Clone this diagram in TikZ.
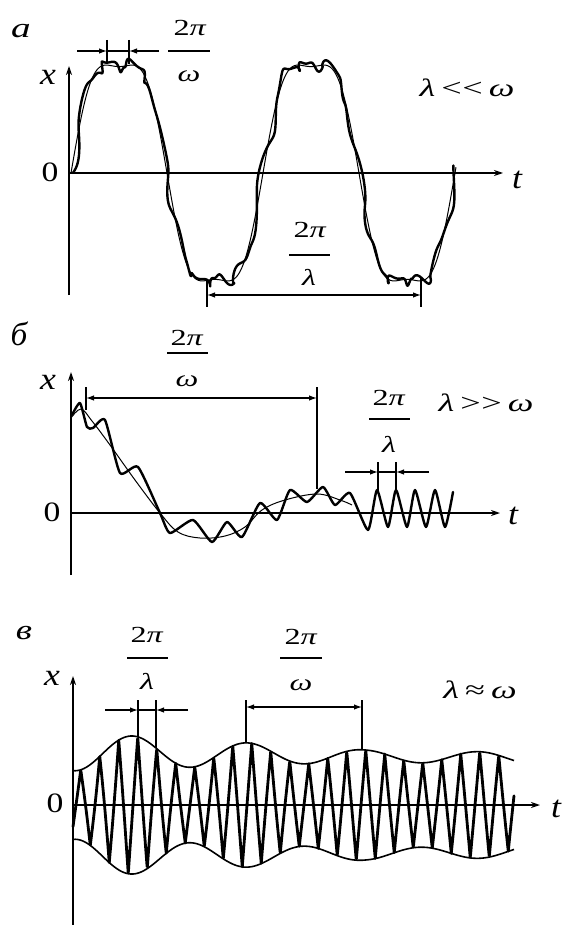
\documentclass[tikz,border=0pt]{standalone}
\usepackage{fontspec}
\setmainfont{Liberation Serif}
\usetikzlibrary{arrows.meta}
\begin{document}
\begin{tikzpicture}[x=1pt,y=-1pt,
  declare function={
    sa(\t)=(sin((\t-71)*1.875)+sin((\t-71)*5.625)/7)/0.87;
    ev(\t)=52.5-0.015*(\t-133)+max(6,16.5-0.045*(\t-133))*cos((\t-133)*3.1304);
    tri(\t)=asin(sin((\t-133)*18.947))/90;
  },
  axisline/.style={line width=1.2pt,-{Stealth[open,length=9pt,width=6pt]}},
  tickline/.style={line width=1.1pt},
  dimline/.style={line width=1.2pt},
  tipend/.style={-{Latex[length=8pt,width=5.5pt]}},
  bothtips/.style={{Latex[length=8pt,width=5.5pt]}-{Latex[length=8pt,width=5.5pt]}},
  slowline/.style={line width=1pt,line join=round},
  fastline/.style={line width=2.4pt,line join=round,line cap=round},
  paneltext/.style={inner sep=0pt,font=\fontsize{28}{30}\selectfont\itshape,xscale=1.4},
  lbltext/.style={inner sep=0pt,font=\fontsize{31}{33}\selectfont\itshape,xscale=1.15},
  zerotext/.style={inner sep=0pt,font=\fontsize{28}{30}\selectfont,xscale=1.2},
  fractext/.style={inner sep=0pt,font=\fontsize{23}{25}\selectfont,xscale=1.4},
  reltext/.style={inner sep=0pt,font=\fontsize{25}{27}\selectfont,xscale=1.45},
]
\useasboundingbox (0,0) rectangle (564,925);

% ================= panel a =================
\node[paneltext] (la) at (21,31) {а};
\coordinate (a0) at (69,173);
\coordinate (ay) at (69,66);
\coordinate (ab) at (69,295);
\coordinate (ax) at (503,173);
\draw[axisline] (ab) -- (ay);
\draw[axisline] (a0) -- (ax);
\node[lbltext] (axl) at (48,77) {x};
\node[zerotext] (a0l) at (50,172) {0};
\node[lbltext] (atl) at (517,180) {t};

\draw[slowline] plot[domain=71:456,samples=300] (\x,{173-108*sa(\x)});
\draw[fastline] plot[domain=71:456,samples=600,variable=\t]
  ({\t+3*sin((\t-71)*16.3636+40)+1.2*sin((\t-71)*27.69)},{173-108*sa(\t)+4.5*sin((\t-71)*16.3636)+1.8*sin((\t-71)*40)});

% 2pi/omega marker
\coordinate (aw1t) at (107,40); \coordinate (aw1b) at (107,64);
\coordinate (aw2t) at (129,40); \coordinate (aw2b) at (129,64);
\draw[tickline] (aw1t) -- (aw1b);
\draw[tickline] (aw2t) -- (aw2b);
\coordinate (aw1) at (107,51); \coordinate (aw2) at (129,51);
\coordinate (awl) at (77,51); \coordinate (awr) at (159,51);
\draw[dimline,tipend] (awl) -- (aw1);
\draw[dimline,tipend] (awr) -- (aw2);
\draw[dimline] (aw1) -- (aw2);
\node[fractext] (awn) at (190,28) {2\textit{π}};
\coordinate (awb1) at (168,51); \coordinate (awb2) at (210,51);
\draw[dimline] (awb1) -- (awb2);
\node[fractext] (awd) at (189,76) {\textit{ω}};

% 2pi/lambda marker
\coordinate (al1t) at (207,280); \coordinate (al1b) at (207,307);
\coordinate (al2t) at (421,277); \coordinate (al2b) at (421,307);
\draw[tickline] (al1t) -- (al1b);
\draw[tickline] (al2t) -- (al2b);
\coordinate (al1) at (207,295); \coordinate (al2) at (421,295);
\draw[dimline,bothtips] (al1) -- (al2);
\node[fractext] (aln) at (310,230) {2\textit{π}};
\coordinate (alb1) at (289,255); \coordinate (alb2) at (330,255);
\draw[dimline] (alb1) -- (alb2);
\node[fractext] (ald) at (309,277) {\textit{λ}};

\node[reltext] (arel) at (467,88) {\textit{λ}\,<\kern0.5pt<\,\textit{ω}};

% ================= panel b =================
\node[paneltext,xscale=0.72,font=\fontsize{33}{35}\selectfont\itshape] (lb) at (19,334) {б};
\coordinate (b0) at (71,513);
\coordinate (by) at (71,372);
\coordinate (bb) at (71,575);
\coordinate (bx) at (500,513);
\draw[axisline] (bb) -- (by);
\draw[axisline] (b0) -- (bx);
\node[lbltext] (bxl) at (48,382) {x};
\node[zerotext] (b0l) at (52,512) {0};
\node[lbltext] (btl) at (513,516) {t};

\draw[slowline] plot[smooth,tension=0.6] coordinates {
 (71,418) (81,409) (92,421) (110,445) (135,480) (160,513) (178,532) (200,538)
 (225,536) (245,527) (262,510) (285,500) (317,494) (340,500) (352,505)};
\draw[fastline] plot[smooth,tension=0.35] coordinates {
 (72,415) (80,403) (87,427) (93,428) (105,420) (120,473) (138,467) (160,513)
 (170,533) (193,520) (212,542) (227,522) (242,537) (260,503) (277,520) (290,490)
 (307,502) (323,487) (335,505) (350,493) (368,530) (377,490) (388,527) (396,490)
 (407,527) (415,490) (426,527) (435,490) (445,527) (453,492)};

% 2pi/omega marker
\coordinate (bw1t) at (86,387); \coordinate (bw1b) at (86,410);
\coordinate (bw2t) at (317,387); \coordinate (bw2b) at (317,489);
\draw[tickline] (bw1t) -- (bw1b);
\draw[tickline] (bw2t) -- (bw2b);
\coordinate (bw1) at (86,398); \coordinate (bw2) at (317,398);
\draw[dimline,bothtips] (bw1) -- (bw2);
\node[fractext] (bwn) at (187,338) {2\textit{π}};
\coordinate (bwb1) at (167,353); \coordinate (bwb2) at (208,353);
\draw[dimline] (bwb1) -- (bwb2);
\node[fractext] (bwd) at (187,381) {\textit{ω}};

% 2pi/lambda marker
\coordinate (bl1t) at (378,462); \coordinate (bl1b) at (378,491);
\coordinate (bl2t) at (396,462); \coordinate (bl2b) at (396,491);
\draw[tickline] (bl1t) -- (bl1b);
\draw[tickline] (bl2t) -- (bl2b);
\coordinate (bl1) at (378,472); \coordinate (bl2) at (396,472);
\coordinate (bll) at (345,472); \coordinate (blr) at (429,472);
\draw[dimline,tipend] (bll) -- (bl1);
\draw[dimline,tipend] (blr) -- (bl2);
\draw[dimline] (bl1) -- (bl2);
\node[fractext] (bln) at (389,398) {2\textit{π}};
\coordinate (blb1) at (369,419); \coordinate (blb2) at (410,419);
\draw[dimline] (blb1) -- (blb2);
\node[fractext] (bld) at (389,444) {\textit{λ}};

\node[reltext] (brel) at (486,403) {\textit{λ}\,>\kern0.5pt>\,\textit{ω}};

% ================= panel c =================
\node[paneltext,xscale=0.95] (lc) at (24,633) {в};
\coordinate (c0) at (73,805);
\coordinate (cy) at (73,676);
\coordinate (cb) at (73,925);
\coordinate (cx) at (540,805);
\draw[axisline] (cb) -- (cy);
\draw[axisline] (c0) -- (cx);
\node[lbltext] (cxl) at (52,678) {x};
\node[zerotext] (c0l) at (55,803) {0};
\node[lbltext] (ctl) at (556,809) {t};

\draw[slowline,line width=1.6pt] plot[domain=73:514,samples=200] (\x,{805-ev(\x)});
\draw[slowline,line width=1.6pt] plot[domain=73:514,samples=200] (\x,{805+ev(\x)});
\draw[fastline,line width=2.8pt] plot[domain=73:514,samples=1400] (\x,{805-ev(\x)*tri(\x)});

% 2pi/lambda marker
\coordinate (cl1t) at (138,700); \coordinate (cl1b) at (138,{805-ev(138)});
\coordinate (cl2t) at (156,700); \coordinate (cl2b) at (156,{805-ev(156)});
\draw[tickline] (cl1t) -- (cl1b);
\draw[tickline] (cl2t) -- (cl2b);
\coordinate (cl1) at (138,710); \coordinate (cl2) at (156,710);
\coordinate (cll) at (105,710); \coordinate (clr) at (188,710);
\draw[dimline,tipend] (cll) -- (cl1);
\draw[dimline,tipend] (clr) -- (cl2);
\draw[dimline] (cl1) -- (cl2);
\node[fractext] (cln) at (147,635) {2\textit{π}};
\coordinate (clb1) at (127,658); \coordinate (clb2) at (168,658);
\draw[dimline] (clb1) -- (clb2);
\node[fractext] (cld) at (147,681) {\textit{λ}};

% 2pi/omega marker
\coordinate (cw1t) at (246,700); \coordinate (cw1b) at (246,{805-ev(246)});
\coordinate (cw2t) at (362,700); \coordinate (cw2b) at (362,{805-ev(362)});
\draw[tickline] (cw1t) -- (cw1b);
\draw[tickline] (cw2t) -- (cw2b);
\coordinate (cw1) at (246,707); \coordinate (cw2) at (362,707);
\draw[dimline,bothtips] (cw1) -- (cw2);
\node[fractext] (cwn) at (301,637) {2\textit{π}};
\coordinate (cwb1) at (280,658); \coordinate (cwb2) at (322,658);
\draw[dimline] (cwb1) -- (cwb2);
\node[fractext] (cwd) at (301,685) {\textit{ω}};

\node[reltext] (crel) at (480,690) {\textit{λ}\,≈\,\textit{ω}};
\end{tikzpicture}
\end{document}
